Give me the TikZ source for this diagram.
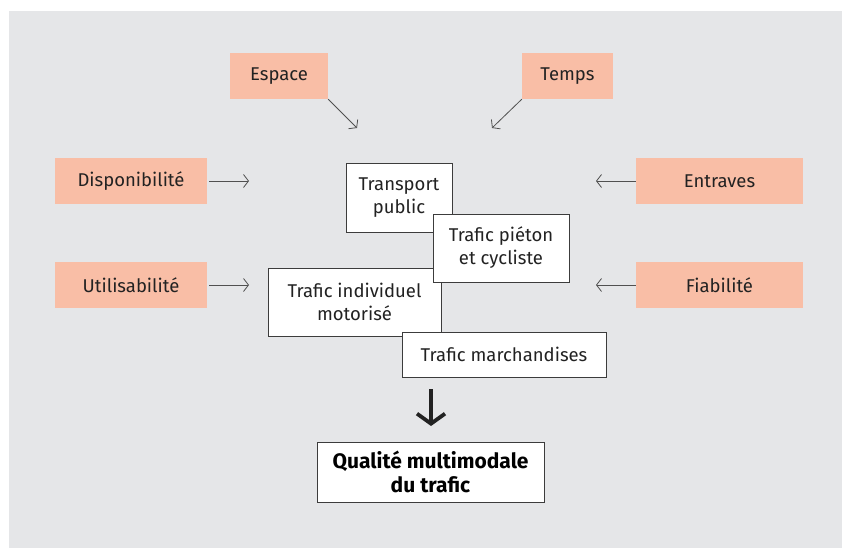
\documentclass[tikz,border=0pt]{standalone}
\usepackage{fontspec}
\setmainfont{Fira Sans}
\usetikzlibrary{arrows.meta}
\definecolor{bg}{HTML}{E5E6E8}
\definecolor{salmon}{HTML}{F9BEA6}
\definecolor{ink}{HTML}{222222}
\definecolor{edge}{HTML}{3C3C3C}
\definecolor{arr}{HTML}{505050}
\tikzset{
  factor/.style={fill=salmon, draw=none, inner sep=0pt, text=ink, font=\fontsize{18.5}{23}\selectfont, align=center},
  mode/.style={fill=white, draw=edge, line width=0.8pt, inner sep=0pt, text=ink, font=\fontsize{18.5}{23}\selectfont, align=center},
  result/.style={fill=white, draw=edge, line width=0.8pt, inner sep=0pt, text=black, font=\bfseries\fontsize{21}{24}\selectfont, align=center},
  thinarrow/.style={draw=arr, line width=0.8pt, -{Straight Barb[length=5pt, width=13pt]}},
  bigarrow/.style={draw=ink, line width=3.8pt, -{Straight Barb[length=10pt, width=28pt, line width=3.8pt]}}
}
\begin{document}
\begin{tikzpicture}[x=1pt, y=-1pt]
\useasboundingbox (0,0) rectangle (842,548);
\fill[white] (0,0) rectangle (842,548);
\fill[bg] (9,11) rectangle (842,548);

\node[factor, minimum width=98pt, minimum height=46pt] (espace) at (279,76) {Espace};
\node[factor, minimum width=91pt, minimum height=46pt] (temps) at (567.5,76) {Temps};
\node[factor, minimum width=152pt, minimum height=46pt] (dispo) at (131,181) {Disponibilité};
\node[factor, minimum width=152pt, minimum height=46pt] (utili) at (131,285) {Utilisabilité};
\node[factor, minimum width=167pt, minimum height=46pt] (entraves) at (719.5,181) {Entraves};
\node[factor, minimum width=167pt, minimum height=46pt] (fiab) at (719.5,285) {Fiabilité};

\node[mode, minimum width=106pt, minimum height=69pt] (transport) at (399,197.5) {Transport\\public};
\node[mode, minimum width=173pt, minimum height=68pt] (indiv) at (354.5,302) {Trafic individuel\\motorisé};
\node[mode, minimum width=136pt, minimum height=68pt] (pieton) at (501,248) {Trafic piéton\\et cycliste};
\node[mode, minimum width=204pt, minimum height=45pt] (march) at (504,354.5) {Trafic marchandises};

\node[result, minimum width=227pt, minimum height=60pt] (qual) at (430.5,472) {Qualité multimodale\\du trafic};

\coordinate (espaceEnd) at (357,128);
\coordinate (tempsEnd) at (492,128);
\coordinate (dispoEnd) at (249,181);
\coordinate (utiliEnd) at (249,285);
\coordinate (entravesEnd) at (596,181);
\coordinate (fiabEnd) at (596,285);
\coordinate (bigStart) at (431,389);
\coordinate (bigEnd) at (431,426);

\draw[thinarrow] (espace.south east) -- (espaceEnd);
\draw[thinarrow] (temps.south west) -- (tempsEnd);
\draw[thinarrow] (dispo.east) ++(2,0) -- (dispoEnd);
\draw[thinarrow] (utili.east) ++(2,0) -- (utiliEnd);
\draw[thinarrow] (entraves.west) -- (entravesEnd);
\draw[thinarrow] (fiab.west) -- (fiabEnd);
\draw[bigarrow] (bigStart) -- (bigEnd);
\end{tikzpicture}
\end{document}
